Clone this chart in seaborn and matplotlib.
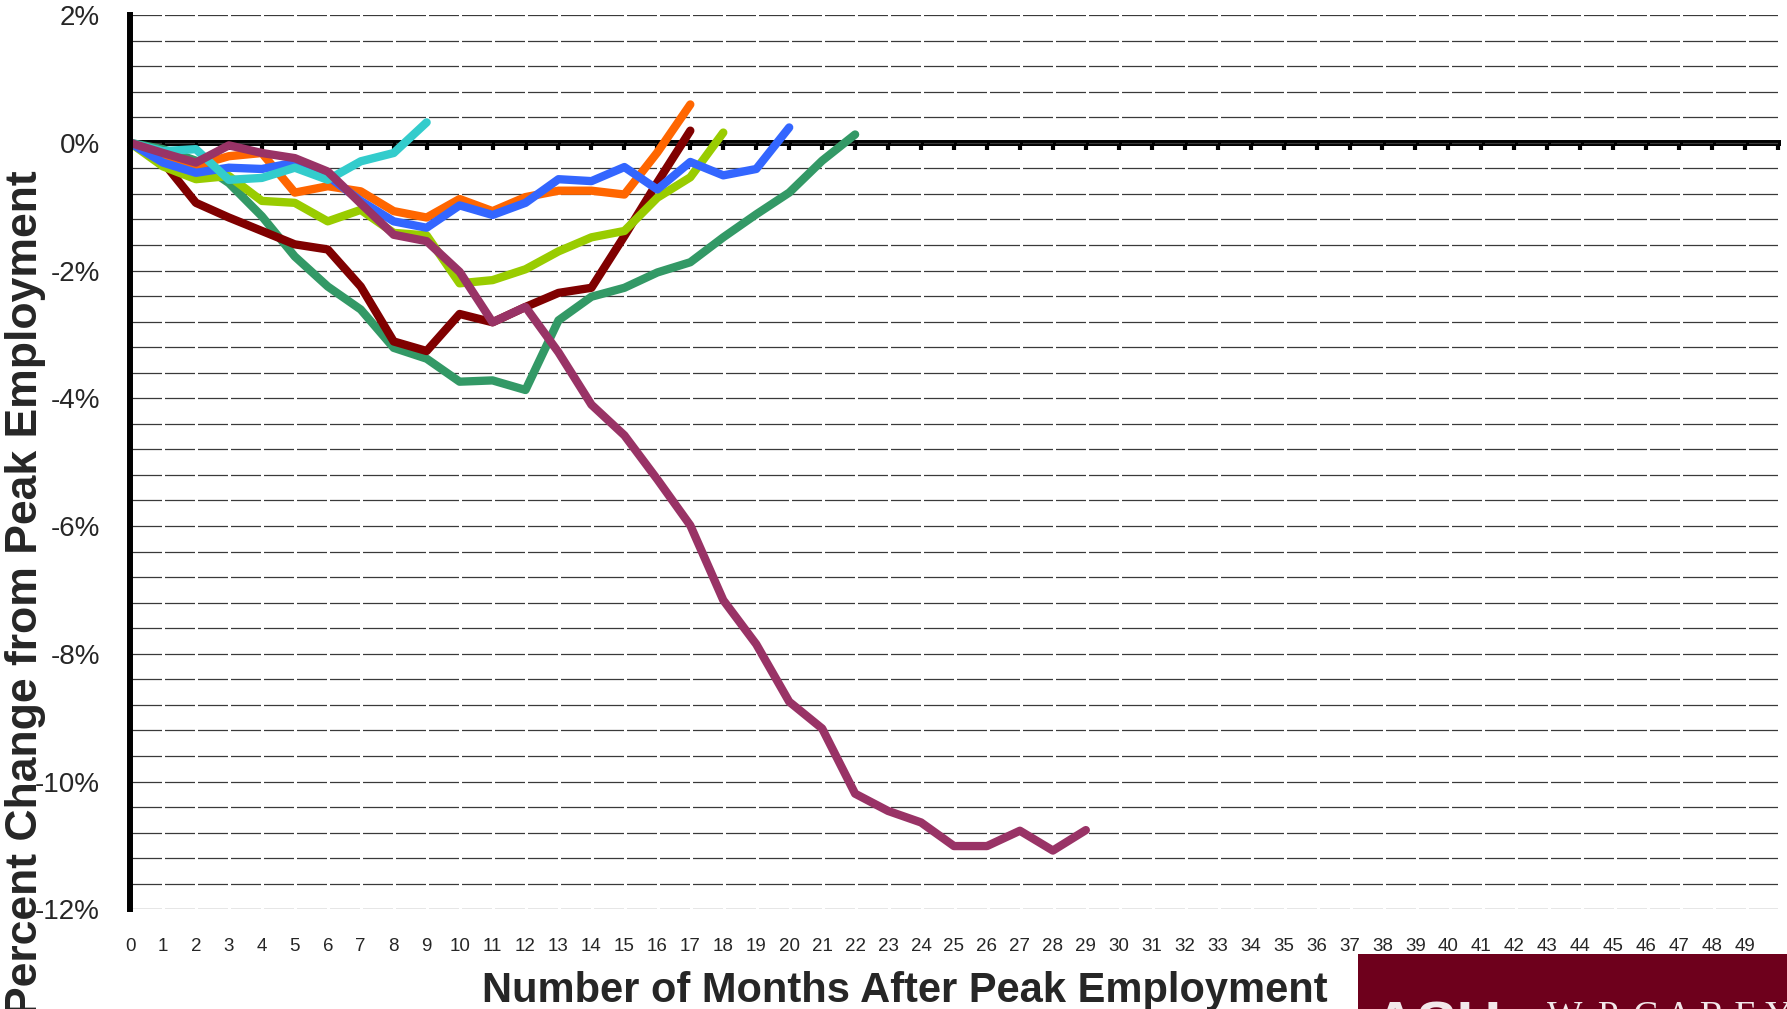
import pandas as pd
import seaborn as sns
import matplotlib.pyplot as plt
from matplotlib.patches import Rectangle
from matplotlib.ticker import MultipleLocator

# months after peak, 0..49 on the category axis
months = list(range(50))
ytick_vals = [2, 0, -2, -4, -6, -8, -10, -12]
ytick_labels = ['2%', '0%', '-2%', '-4%', '-6%', '-8%', '-10%', '-12%']

# percent change from peak employment
cyan_vals = [0, -0.13, -0.10, -0.58, -0.55, -0.39, -0.58, -0.29, -0.16, 0.32]
orange_vals = [0, -0.20, -0.36, -0.21, -0.16, -0.78, -0.68, -0.76, -1.07, -1.17,
               -0.88, -1.07, -0.85, -0.75, -0.75, -0.81, -0.15, 0.60]
blue_vals = [0, -0.31, -0.47, -0.39, -0.41, -0.31, -0.52, -0.91, -1.23, -1.33,
             -0.98, -1.13, -0.94, -0.57, -0.60, -0.38, -0.73, -0.30, -0.51, -0.41, 0.24]
lime_vals = [0, -0.37, -0.57, -0.52, -0.91, -0.94, -1.23, -1.05, -1.41, -1.45,
             -2.20, -2.15, -1.98, -1.70, -1.48, -1.38, -0.86, -0.54, 0.16]
darkred_vals = [0, -0.30, -0.94, -1.17, -1.38, -1.59, -1.67, -2.25, -3.11, -3.26,
                -2.68, -2.81, -2.57, -2.35, -2.27, -1.46, -0.62, 0.19]
green_vals = [0, -0.10, -0.28, -0.63, -1.15, -1.78, -2.25, -2.61, -3.21, -3.38,
              -3.74, -3.72, -3.87, -2.78, -2.41, -2.27, -2.03, -1.87, -1.48, -1.12,
              -0.78, -0.28, 0.13]
purple_vals = [0, -0.16, -0.31, -0.04, -0.16, -0.24, -0.45, -0.95, -1.44, -1.54,
               -2.02, -2.81, -2.57, -3.28, -4.10, -4.58, -5.27, -5.99, -7.16, -7.85,
               -8.75, -9.17, -10.19, -10.46, -10.64, -11.01, -11.01, -10.77, -11.08, -10.76]

series = {
    'green': green_vals,
    'darkred': darkred_vals,
    'lime': lime_vals,
    'orange': orange_vals,
    'blue': blue_vals,
    'cyan': cyan_vals,
    'purple': purple_vals,
}
palette = {
    'green': '#339966',
    'darkred': '#800000',
    'lime': '#99CC00',
    'orange': '#FF6600',
    'blue': '#3366FF',
    'cyan': '#33CCCC',
    'purple': '#993366',
}

rows = []
for name, vals in series.items():
    for m, v in zip(months, vals):
        rows.append({'month': m, 'pct': v, 'series': name})
df = pd.DataFrame(rows)

sns.set_style('white')
plt.rcParams['font.family'] = ['Liberation Sans', 'DejaVu Sans']

fig = plt.figure(figsize=(17.87, 10.09), dpi=100)
ax = fig.add_axes([0.07275, 0.0988, 0.9222, 0.8863])

sns.lineplot(
    ax=ax,
    data=df,
    x='month',
    y='pct',
    hue='series',
    hue_order=list(series.keys()),
    palette=palette,
    sort=False,
    estimator=None,
    legend=False,
    lw=6.0,
)
for line in ax.get_lines():
    line.set_linewidth(6.0)
    line.set_solid_capstyle('round')
    line.set_solid_joinstyle('round')

ax.set_xlim(0, 50)
ax.set_ylim(-12, 2)
ax.set_xlabel('')
ax.set_ylabel('')

ax.set_xticks(months)
ax.set_xticklabels([str(m) for m in months])
ax.set_yticks(ytick_vals)
ax.set_yticklabels(ytick_labels)
ax.yaxis.set_minor_locator(MultipleLocator(0.4))

ax.set_axisbelow(True)
ax.grid(False)
ax.grid(True, axis='y', which='both', color='#3a3a3a', linewidth=0.9,
        linestyle=(25.2, (24, 2.4)))

for side in ['top', 'right', 'bottom']:
    ax.spines[side].set_visible(False)
ax.spines['left'].set_linewidth(4.3)
ax.spines['left'].set_color('black')

# the thick 0% axis line with its small month ticks
sec = ax.secondary_xaxis(12 / 14)
sec.set_xticks(list(range(51)))
sec.tick_params(axis='x', direction='in', length=5, width=3, color='black',
                labeltop=False, labelbottom=False)
for sp in sec.spines.values():
    sp.set_linewidth(4.3)
    sp.set_color('black')

ax.tick_params(axis='y', which='major', direction='out', length=7.2, width=2.2,
               pad=14.4, labelsize=20, color='black')
ax.tick_params(axis='y', which='minor', length=0)
ax.xaxis.set_tick_params(which='major', length=0, pad=21, labelsize=13.5)

fig.text(0.003, 0.412, 'Percent Change from Peak Employment', rotation=90,
         fontsize=32, fontweight='bold', ha='left', va='center')
fig.text(0.5065, 0.007, 'Number of Months After Peak Employment',
         fontsize=30, fontweight='bold', ha='center', va='baseline')

# logo block in the lower right corner
fig.add_artist(Rectangle((0.76, 0), 0.24, 0.0545, transform=fig.transFigure,
                         facecolor='#6E001C', edgecolor='none'))
fig.text(0.768, 0.0089, 'ASU', fontsize=44, fontweight='bold', color='#f2e8ea',
         ha='left', va='top')
fig.text(0.8657, 0.0089, 'W. P. C A R E Y', fontsize=27, color='#f2e8ea',
         family=['Liberation Serif', 'DejaVu Serif'], ha='left', va='top')

fig.savefig('out.png', dpi=100)
